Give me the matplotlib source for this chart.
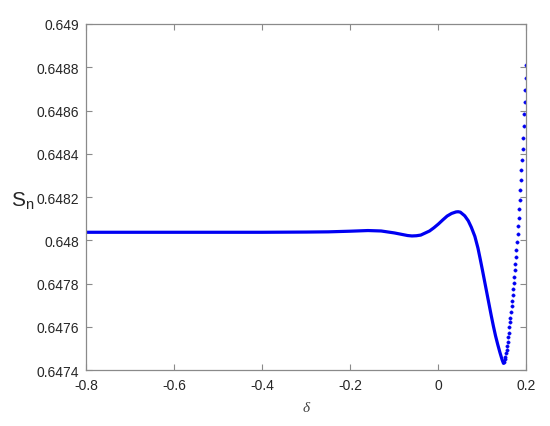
import numpy as np
import matplotlib.pyplot as plt

# continuous part of the curve
delta = [-0.80, -0.70, -0.60, -0.50, -0.40, -0.30, -0.25, -0.20, -0.16, -0.13,
         -0.10, -0.08, -0.07, -0.06, -0.05, -0.04, -0.02, -0.01, 0.00, 0.01,
         0.02, 0.03, 0.04, 0.045, 0.05, 0.06, 0.068, 0.075, 0.083, 0.09,
         0.095, 0.10, 0.11, 0.12, 0.125, 0.13, 0.135, 0.14, 0.145, 0.148, 0.15]
s_n = [0.648037, 0.648037, 0.648037, 0.648037, 0.648037, 0.648038, 0.648039, 0.648042, 0.648045, 0.648043,
       0.648034, 0.648026, 0.648022, 0.648020, 0.648021, 0.648024, 0.648043, 0.648058, 0.648075, 0.648094,
       0.648112, 0.648124, 0.648131, 0.648132, 0.648130, 0.648113, 0.648090, 0.648060, 0.648018, 0.647964,
       0.647915, 0.647864, 0.647759, 0.647654, 0.647604, 0.647558, 0.647518, 0.647481, 0.647447, 0.647431, 0.647437]

# steep tail where the single samples are visible
delta_tail = [0.15, 0.15125, 0.1525, 0.15375, 0.155, 0.15625, 0.1575, 0.15875, 0.16, 0.16125,
              0.1625, 0.16375, 0.165, 0.16625, 0.1675, 0.16875, 0.17, 0.17125, 0.1725, 0.17375,
              0.175, 0.17625, 0.1775, 0.17875, 0.18, 0.18125, 0.1825, 0.18375, 0.185, 0.18625,
              0.1875, 0.18875, 0.19, 0.19125, 0.1925, 0.19375, 0.195, 0.19625, 0.1975, 0.19875, 0.2]
s_n_tail = [0.647437, 0.647449, 0.647462, 0.647479, 0.647495, 0.647513, 0.647532, 0.647553, 0.647573, 0.647597,
            0.647620, 0.647643, 0.647668, 0.647694, 0.647719, 0.647747, 0.647775, 0.647802, 0.647832, 0.647862,
            0.647892, 0.647925, 0.647957, 0.647992, 0.648027, 0.648064, 0.648103, 0.648145, 0.648188, 0.648232,
            0.648279, 0.648325, 0.648373, 0.648424, 0.648475, 0.648528, 0.648584, 0.648639, 0.648695, 0.648750, 0.648810]

xticks = [-0.8, -0.6, -0.4, -0.2, 0.0, 0.2]
xticklabels = ['-0.8', '-0.6', '-0.4', '-0.2', '0', '0.2']
yticks = [0.6474, 0.6476, 0.6478, 0.648, 0.6482, 0.6484, 0.6486, 0.6488, 0.649]
yticklabels = ['0.6474', '0.6476', '0.6478', '0.648', '0.6482', '0.6484', '0.6486', '0.6488', '0.649']

plt.rcParams['font.family'] = ['Liberation Sans', 'DejaVu Sans']
blue = (0.0, 0.0, 0.95)
spine_col = '#8a8a8a'
text_col = '#262626'

fig = plt.figure(figsize=(5.5, 4.27), dpi=100)
ax = fig.add_axes([0.157, 0.131, 0.800, 0.8105])

ax.plot(delta, s_n, color=blue, linewidth=2.3, solid_capstyle='round', solid_joinstyle='round')
ax.plot(delta_tail, s_n_tail, linestyle='none', marker='o', markersize=2.4,
        markerfacecolor=blue, markeredgecolor=blue, markeredgewidth=0.3)

ax.set_xlim(-0.8, 0.2)
ax.set_ylim(0.6474, 0.649)
ax.set_xticks(xticks)
ax.set_xticklabels(xticklabels)
ax.set_yticks(yticks)
ax.set_yticklabels(yticklabels)

for sp in ax.spines.values():
    sp.set_color(spine_col)
    sp.set_linewidth(0.9)
ax.tick_params(axis='both', direction='in', length=4, width=0.8, color=spine_col,
               labelcolor=text_col, labelsize=10, top=True, right=True)
ax.tick_params(axis='x', pad=6)
ax.tick_params(axis='y', pad=5)

ax.set_xlabel('δ', family='Liberation Serif', style='italic', fontsize=11,
              color='#404040', labelpad=6)
ax.set_ylabel(r'$\mathregular{S_n}$', fontsize=15, rotation=0, color=text_col,
              ha='center', va='center')
ax.yaxis.set_label_coords(-0.144, 0.49)

plt.savefig('out.png', dpi=100)
